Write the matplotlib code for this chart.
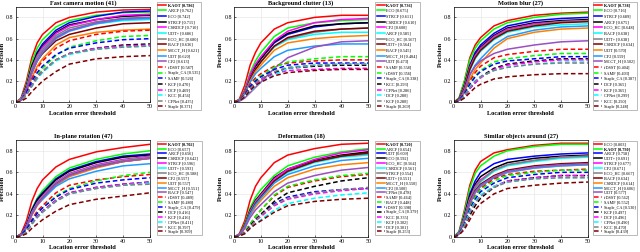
import matplotlib
matplotlib.use("Agg")
import matplotlib.pyplot as plt

plt.rcParams['font.family'] = ['Liberation Serif', 'DejaVu Serif']

thresholds = [0, 2, 4, 6, 8, 10, 15, 20, 30, 40, 50]

# --- Fast camera motion (41)
names_fcm = ["KAOT", "ARCF", "ECO", "STRCF", "CSRDCF", "UDT+", "ECO_HC", "BACF", "MCCT_H", "UDT", "CF2",
             "fDSST", "Staple_CA", "SAMF", "KCF", "DCF", "KCC", "CFNet", "Staple"]
scores_fcm = [0.786, 0.762, 0.742, 0.715, 0.710, 0.686, 0.680, 0.636, 0.621, 0.620, 0.613,
              0.587, 0.535, 0.526, 0.470, 0.469, 0.456, 0.435, 0.371]
prec_fcm = [
    [0, .04, .20, .42, .56, .64, .75, .80, .85, .87, .875],
    [0, .03, .17, .38, .51, .59, .71, .77, .82, .845, .85],
    [0, .03, .15, .34, .47, .55, .68, .75, .81, .85, .86],
    [0, .03, .15, .34, .46, .53, .66, .73, .78, .81, .82],
    [0, .03, .14, .32, .44, .52, .65, .72, .78, .82, .83],
    [0, .03, .13, .30, .42, .50, .62, .68, .74, .77, .78],
    [0, .03, .13, .31, .43, .50, .63, .70, .76, .79, .80],
    [0, .02, .12, .28, .39, .46, .58, .64, .70, .74, .75],
    [0, .02, .09, .23, .34, .41, .54, .61, .66, .68, .69],
    [0, .02, .11, .27, .39, .47, .60, .67, .74, .78, .79],
    [0, .02, .11, .28, .40, .48, .61, .68, .75, .79, .80],
    [0, .02, .09, .22, .32, .39, .51, .58, .64, .67, .68],
    [0, .02, .08, .18, .26, .32, .44, .52, .58, .62, .63],
    [0, .02, .09, .20, .28, .34, .45, .51, .56, .59, .60],
    [0, .02, .07, .16, .24, .29, .40, .46, .51, .54, .55],
    [0, .02, .07, .16, .24, .29, .40, .46, .51, .53, .54],
    [0, .02, .07, .15, .22, .28, .39, .45, .50, .52, .53],
    [0, .02, .07, .15, .23, .29, .40, .46, .50, .52, .53],
    [0, .01, .04, .10, .15, .20, .29, .36, .41, .43, .44],
]

# --- Background clutter (13)
names_bc = ["KAOT", "ECO", "STRCF", "CSRDCF", "CF2", "ARCF", "ECO_HC", "UDT+", "BACF", "MCCT_H", "UDT",
            "SAMF", "fDSST", "Staple_CA", "KCC", "CFNet", "DCF", "KCF", "Staple"]
scores_bc = [0.736, 0.675, 0.611, 0.610, 0.600, 0.585, 0.567, 0.564, 0.545, 0.484, 0.473,
             0.358, 0.356, 0.338, 0.293, 0.286, 0.280, 0.280, 0.269]
prec_bc = [
    [0, .03, .16, .35, .47, .56, .69, .75, .80, .82, .82],
    [0, .02, .12, .28, .39, .47, .62, .70, .75, .77, .78],
    [0, .02, .10, .24, .34, .41, .56, .64, .71, .74, .75],
    [0, .02, .10, .24, .34, .41, .57, .65, .72, .74, .75],
    [0, .02, .11, .26, .36, .43, .58, .67, .75, .78, .79],
    [0, .02, .09, .22, .31, .38, .52, .59, .64, .66, .66],
    [0, .02, .09, .22, .31, .38, .53, .60, .66, .69, .70],
    [0, .02, .09, .22, .31, .38, .53, .61, .67, .69, .70],
    [0, .02, .08, .20, .29, .35, .49, .56, .60, .62, .63],
    [0, .02, .08, .19, .27, .32, .43, .49, .53, .55, .55],
    [0, .01, .04, .09, .14, .19, .32, .42, .52, .57, .58],
    [0, .02, .08, .17, .23, .27, .34, .37, .39, .40, .40],
    [0, .02, .07, .15, .21, .25, .33, .38, .41, .43, .43],
    [0, .02, .07, .15, .20, .24, .31, .35, .37, .37, .37],
    [0, .02, .06, .13, .18, .22, .28, .32, .34, .35, .35],
    [0, .01, .05, .12, .17, .21, .27, .30, .31, .32, .32],
    [0, .01, .05, .10, .15, .19, .26, .32, .35, .36, .36],
    [0, .02, .06, .13, .18, .22, .29, .33, .35, .36, .36],
    [0, .01, .05, .11, .16, .19, .25, .28, .30, .31, .31],
]

# --- Motion blur (27)
names_mb = ["KAOT", "ECO", "STRCF", "ARCF", "ECO_HC", "BACF", "UDT+", "CSRDCF", "UDT", "CF2", "MCCT_H",
            "fDSST", "SAMF", "Staple_CA", "DCF", "KCF", "CFNet", "KCC", "Staple"]
scores_mb = [0.738, 0.716, 0.689, 0.675, 0.648, 0.638, 0.638, 0.634, 0.570, 0.559, 0.502,
             0.404, 0.403, 0.387, 0.365, 0.365, 0.299, 0.290, 0.248]
prec_mb = [
    [0, .04, .20, .42, .54, .61, .72, .77, .82, .84, .85],
    [0, .04, .20, .40, .51, .58, .69, .75, .80, .83, .84],
    [0, .03, .16, .35, .47, .54, .65, .72, .77, .79, .80],
    [0, .03, .16, .34, .45, .52, .63, .70, .75, .77, .78],
    [0, .03, .15, .33, .44, .51, .62, .69, .74, .76, .77],
    [0, .03, .13, .30, .41, .48, .59, .66, .71, .73, .74],
    [0, .03, .14, .32, .43, .50, .61, .68, .73, .76, .77],
    [0, .03, .13, .31, .42, .49, .60, .67, .72, .75, .76],
    [0, .02, .09, .22, .31, .37, .51, .60, .66, .69, .70],
    [0, .02, .11, .26, .35, .41, .54, .62, .68, .71, .72],
    [0, .02, .11, .26, .34, .39, .46, .50, .54, .57, .58],
    [0, .02, .09, .20, .28, .34, .42, .45, .48, .50, .50],
    [0, .02, .08, .18, .25, .30, .38, .41, .44, .46, .46],
    [0, .02, .08, .17, .24, .29, .36, .39, .41, .43, .43],
    [0, .01, .05, .13, .19, .24, .32, .36, .39, .41, .41],
    [0, .01, .05, .13, .18, .23, .31, .35, .38, .40, .40],
    [0, .01, .06, .14, .20, .24, .30, .33, .36, .38, .38],
    [0, .01, .06, .14, .20, .24, .30, .33, .36, .37, .37],
    [0, .01, .04, .09, .14, .17, .22, .24, .26, .27, .27],
]

# --- In-plane rotation (47)
names_ipr = ["KAOT", "ECO", "ARCF", "CSRDCF", "STRCF", "UDT+", "ECO_HC", "CF2", "UDT", "MCCT_H", "BACF",
             "fDSST", "SAMF", "Staple_CA", "DCF", "KCF", "CFNet", "KCC", "Staple"]
scores_ipr = [0.702, 0.657, 0.656, 0.642, 0.596, 0.593, 0.588, 0.557, 0.557, 0.551, 0.547,
              0.489, 0.480, 0.479, 0.416, 0.416, 0.411, 0.397, 0.309]
prec_ipr = [
    [0, .03, .15, .33, .45, .53, .65, .72, .79, .83, .86],
    [0, .02, .11, .26, .36, .43, .56, .64, .72, .77, .80],
    [0, .02, .11, .25, .35, .41, .54, .62, .70, .75, .77],
    [0, .02, .10, .24, .34, .40, .53, .61, .69, .74, .76],
    [0, .02, .10, .23, .32, .38, .51, .59, .67, .72, .75],
    [0, .02, .09, .22, .31, .37, .50, .58, .66, .71, .74],
    [0, .02, .09, .22, .31, .37, .50, .58, .66, .71, .74],
    [0, .02, .09, .21, .30, .36, .49, .57, .65, .70, .73],
    [0, .02, .08, .20, .29, .35, .48, .56, .64, .70, .73],
    [0, .02, .09, .21, .30, .35, .47, .54, .61, .66, .68],
    [0, .02, .09, .21, .30, .36, .49, .57, .65, .70, .73],
    [0, .02, .07, .16, .24, .29, .41, .48, .53, .56, .58],
    [0, .02, .07, .15, .22, .27, .38, .45, .52, .57, .60],
    [0, .02, .07, .15, .22, .27, .37, .44, .50, .53, .55],
    [0, .01, .05, .12, .19, .24, .34, .41, .46, .49, .51],
    [0, .01, .05, .12, .19, .24, .34, .41, .46, .49, .51],
    [0, .01, .05, .12, .18, .23, .33, .40, .45, .48, .50],
    [0, .01, .05, .12, .18, .23, .33, .40, .45, .48, .49],
    [0, .01, .03, .08, .12, .16, .24, .30, .35, .38, .41],
]

# --- Deformation (18)
names_def = ["KAOT", "ARCF", "UDT", "ECO", "ECO_HC", "CSRDCF", "STRCF", "UDT+", "MCCT_H", "CF2", "CFNet",
             "SAMF", "BACF", "fDSST", "Staple_CA", "KCC", "KCF", "DCF", "Staple"]
scores_def = [0.720, 0.654, 0.609, 0.592, 0.564, 0.561, 0.554, 0.551, 0.550, 0.500, 0.478,
              0.464, 0.448, 0.398, 0.379, 0.335, 0.302, 0.301, 0.253]
prec_def = [
    [0, .03, .15, .34, .47, .55, .69, .76, .82, .86, .87],
    [0, .02, .12, .27, .37, .44, .57, .66, .74, .79, .82],
    [0, .02, .10, .23, .32, .38, .52, .61, .70, .75, .78],
    [0, .02, .11, .25, .34, .40, .55, .63, .71, .76, .79],
    [0, .02, .10, .24, .33, .39, .54, .63, .72, .78, .81],
    [0, .02, .09, .22, .31, .37, .51, .60, .69, .74, .76],
    [0, .02, .10, .23, .32, .38, .52, .61, .70, .75, .77],
    [0, .02, .09, .22, .31, .37, .52, .61, .70, .75, .78],
    [0, .02, .08, .20, .28, .34, .47, .55, .63, .67, .69],
    [0, .02, .09, .21, .30, .36, .50, .58, .66, .71, .73],
    [0, .02, .08, .18, .25, .30, .42, .50, .57, .62, .645],
    [0, .01, .05, .12, .19, .25, .38, .46, .52, .56, .58],
    [0, .01, .05, .12, .19, .25, .39, .47, .53, .57, .59],
    [0, .01, .04, .10, .16, .21, .31, .37, .42, .44, .45],
    [0, .01, .04, .10, .16, .21, .33, .41, .47, .52, .55],
    [0, .01, .04, .09, .15, .19, .29, .35, .40, .43, .45],
    [0, .01, .03, .08, .12, .16, .25, .31, .36, .39, .41],
    [0, .01, .04, .09, .15, .20, .30, .36, .41, .44, .46],
    [0, .01, .03, .08, .12, .15, .23, .29, .33, .35, .36],
]

# --- Similar objects around (27)
names_soa = ["ECO", "KAOT", "ARCF", "UDT+", "STRCF", "CF2", "ECO_HC", "BACF", "CSRDCF", "MCCT_H", "UDT",
             "fDSST", "SAMF", "Staple_CA", "KCF", "DCF", "CFNet", "KCC", "Staple"]
scores_soa = [0.803, 0.790, 0.758, 0.691, 0.677, 0.671, 0.667, 0.634, 0.614, 0.606, 0.577,
              0.562, 0.552, 0.530, 0.497, 0.496, 0.490, 0.470, 0.439]
prec_soa = [
    [0, .05, .25, .48, .62, .70, .78, .81, .85, .87, .87],
    [0, .05, .23, .45, .59, .66, .75, .80, .84, .86, .86],
    [0, .04, .20, .40, .52, .60, .68, .72, .75, .77, .78],
    [0, .04, .19, .38, .49, .56, .64, .69, .73, .75, .76],
    [0, .04, .18, .36, .47, .53, .62, .67, .71, .74, .75],
    [0, .04, .17, .34, .45, .51, .61, .66, .70, .73, .74],
    [0, .04, .18, .35, .46, .52, .62, .67, .71, .74, .75],
    [0, .03, .16, .33, .43, .49, .57, .62, .66, .68, .69],
    [0, .03, .15, .31, .41, .47, .55, .60, .64, .66, .67],
    [0, .03, .15, .31, .41, .47, .55, .60, .64, .66, .67],
    [0, .03, .16, .32, .42, .48, .56, .61, .65, .67, .68],
    [0, .03, .13, .28, .38, .45, .54, .58, .61, .62, .63],
    [0, .03, .13, .27, .37, .44, .52, .57, .60, .62, .62],
    [0, .03, .12, .26, .35, .42, .50, .55, .58, .60, .60],
    [0, .02, .09, .20, .29, .36, .46, .52, .55, .57, .57],
    [0, .02, .10, .23, .32, .38, .47, .52, .55, .57, .57],
    [0, .02, .10, .24, .33, .39, .47, .51, .54, .55, .55],
    [0, .02, .10, .23, .32, .38, .46, .51, .54, .55, .55],
    [0, .02, .07, .16, .25, .31, .40, .45, .48, .50, .51],
]

titles = ["Fast camera motion (41)", "Background clutter (13)", "Motion blur (27)",
          "In-plane rotation (47)", "Deformation (18)", "Similar objects around (27)"]

# colour / style by rank in the legend
rank_colors = ["#ff0000", "#00ff00", "#0000ff", "#000000", "#ff00ff", "#00ffff", "#808080",
               "#800000", "#ff8000", "#1e9bff", "#9b4fc0",
               "#ff0000", "#00ff00", "#0000ff", "#000000", "#ff00ff", "#00ffff", "#808080", "#800000"]
rank_styles = ["-"] * 11 + ["--"] * 8

panels = [
    (names_fcm, scores_fcm, prec_fcm),
    (names_bc, scores_bc, prec_bc),
    (names_mb, scores_mb, prec_mb),
    (names_ipr, scores_ipr, prec_ipr),
    (names_def, scores_def, prec_def),
    (names_soa, scores_soa, prec_soa),
]

fig = plt.figure(figsize=(6.4, 2.52), dpi=100)

col_left = [0.0245, 0.3656, 0.7089]
leg_left = [0.245, 0.586, 0.926]
row_bottom = [0.594, 0.0595]
row_height = [0.379, 0.385]
leg_top = [0.993, 0.442]
leg_spacing = [0.38, 0.2]

for i, (names, scores, prec) in enumerate(panels):
    r, c = divmod(i, 3)
    ax = fig.add_axes([col_left[c], row_bottom[r], 0.2098, row_height[r]])
    ax.grid(True, color="#e3e3e3", lw=0.4)
    ax.set_axisbelow(True)
    handles = []
    for k in range(len(names)):
        h, = ax.plot(thresholds, prec[k], color=rank_colors[k], ls=rank_styles[k], lw=1.1,
                     dashes=(3, 1.8) if rank_styles[k] == "--" else (None, None))
        handles.append(h)
    ax.set_xlim(0, 50)
    ax.set_ylim(0, 0.9)
    ax.set_xticks([0, 10, 20, 30, 40, 50])
    ax.set_yticks([0, 0.2, 0.4, 0.6, 0.8])
    ax.set_yticklabels(["0", "0.2", "0.4", "0.6", "0.8"])
    ax.tick_params(direction="in", length=1.5, width=0.4, labelsize=4.3, pad=1.5)
    for s in ax.spines.values():
        s.set_linewidth(0.5)
    ax.set_title(titles[i], fontsize=4.6, fontweight="bold", pad=1.5)
    ax.set_xlabel("Location error threshold", fontsize=4.6, fontweight="bold", labelpad=1)
    ax.set_ylabel("Precision", fontsize=4.6, fontweight="bold", labelpad=1)

    labels = [f"{n} [{s:.3f}]" for n, s in zip(names, scores)]
    leg = ax.legend(handles, labels, loc="upper left", bbox_to_anchor=(leg_left[c], leg_top[r]),
                    bbox_transform=fig.transFigure, fontsize=3.1, labelspacing=leg_spacing[r],
                    handlelength=1.9, handletextpad=0.35, borderpad=0.35, borderaxespad=0,
                    fancybox=False, edgecolor="#888888", framealpha=1)
    leg.get_frame().set_linewidth(0.4)
    for t in leg.get_texts():
        if t.get_text().startswith("KAOT"):
            t.set_fontweight("bold")

plt.savefig("out.png", dpi=100)
